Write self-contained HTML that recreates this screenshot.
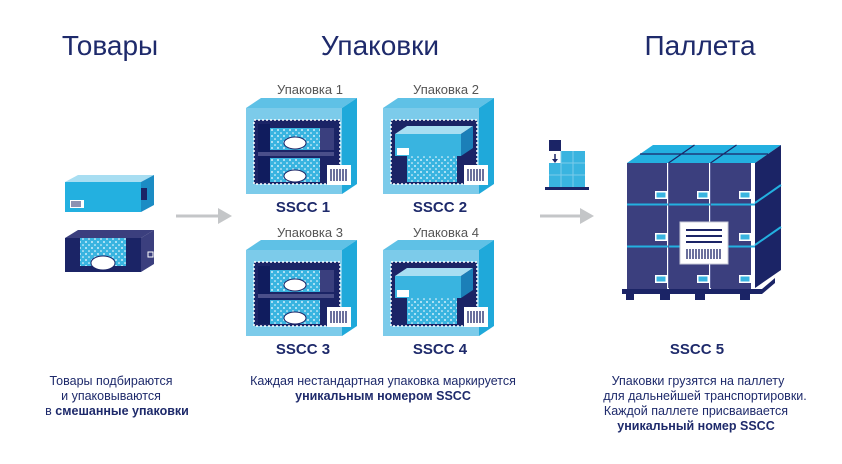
<!DOCTYPE html>
<html><head><meta charset="utf-8"><style>
html,body{margin:0;padding:0;background:#fff;}
svg{display:block;font-family:"Liberation Sans",sans-serif;}
</style></head><body>
<svg width="842" height="464" viewBox="0 0 842 464" xmlns="http://www.w3.org/2000/svg">
<defs>
<pattern id="dots" width="6" height="6" patternUnits="userSpaceOnUse">
<rect width="6" height="6" fill="#39b4e0"/><circle cx="2" cy="2" r="1" fill="#cfeefa"/><circle cx="5" cy="5" r="0.8" fill="#ffffff"/>
</pattern>
<g id="pkgbase">
<polygon points="0,10 15,0 111,0 96,10" fill="#5fc1e6"/>
<polygon points="96,10 111,0 111,86 96,96" fill="#1fa9da"/>
<rect x="0" y="10" width="96" height="86" fill="#7ccbea"/>
<rect x="8" y="22" width="86" height="64" fill="#1b2466" stroke="#fff" stroke-width="1.5" stroke-dasharray="2 2"/>
</g>
<g id="mixed">
<rect x="12" y="26" width="12" height="58" fill="#101c5e"/>
<rect x="24" y="30" width="50" height="22" fill="url(#dots)"/>
<ellipse cx="49" cy="45" rx="11" ry="6" fill="#fff" stroke="#1b2466"/>
<rect x="24" y="60" width="50" height="24" fill="url(#dots)"/>
<ellipse cx="49" cy="78" rx="11" ry="6" fill="#fff" stroke="#1b2466"/>
<rect x="74" y="30" width="14" height="22" fill="#3a3f7e"/>
<rect x="12" y="54" width="76" height="4" fill="#4a4f8a"/>
</g>
<g id="single">
<rect x="24" y="58" width="50" height="26" fill="url(#dots)"/>
<polygon points="12,36 24,28 90,28 78,36" fill="#a8def2"/>
<rect x="12" y="36" width="66" height="22" fill="#39b4e0"/>
<polygon points="78,36 90,28 90,50 78,58" fill="#1b7fb8"/>
<rect x="14" y="50" width="12" height="7" fill="#fff"/>
</g>
<g id="bar">
<rect x="0" y="0" width="24" height="20" fill="#fff"/>
<path d="M4 4v12M7 4v12M10 4v12M13 4v12M16 4v12M19 4v12" stroke="#1b2466" stroke-width="1.3"/>
</g>
<g id="pbox">
<rect width="40" height="42" fill="#3b3f7e"/>
<rect x="28" y="28" width="12" height="8" fill="#fff"/>
<rect x="29.5" y="29.5" width="9" height="5" fill="#39b4e0"/>
</g>
</defs>

<g fill="#1e2a6b" font-size="28" text-anchor="middle">
<text x="110" y="55">Товары</text>
<text x="380" y="55">Упаковки</text>
<text x="700" y="55">Паллета</text>
</g>

<polygon points="65,182 78,175 154,175 141,182" fill="#a8def2"/>
<rect x="65" y="182" width="76" height="30" fill="#23b0e0"/>
<polygon points="141,182 154,175 154,205 141,212" fill="#1b8cc4"/>
<rect x="141" y="188" width="6" height="12" fill="#1b2466"/>
<rect x="70" y="200" width="14" height="8" fill="#fff"/>
<path d="M72 201v6M74 201v6M76 201v6M78 201v6M80 201v6" stroke="#1b2466"/>
<polygon points="65,238 78,230 154,230 141,238" fill="#3b3f7e"/>
<rect x="65" y="238" width="76" height="34" fill="#1b2466"/>
<polygon points="141,238 154,230 154,264 141,272" fill="#3b3f7e"/>
<rect x="80" y="238" width="46" height="28" fill="url(#dots)"/>
<ellipse cx="103" cy="263" rx="12" ry="7" fill="#fff" stroke="#1b2466"/>
<rect x="148" y="252" width="5" height="5" fill="none" stroke="#fff"/>

<line x1="176" y1="216" x2="220" y2="216" stroke="#c4c6c8" stroke-width="3"/>
<polygon points="218,208 232,216 218,224" fill="#c4c6c8"/>
<line x1="540" y1="216" x2="582" y2="216" stroke="#c4c6c8" stroke-width="3"/>
<polygon points="580,208 594,216 580,224" fill="#c4c6c8"/>

<g fill="#555" font-size="13" text-anchor="middle">
<text x="310" y="94">Упаковка 1</text>
<text x="446" y="94">Упаковка 2</text>
<text x="310" y="237">Упаковка 3</text>
<text x="446" y="237">Упаковка 4</text>
</g>
<g transform="translate(246,98)"><use href="#pkgbase"/><use href="#mixed"/><use href="#bar" x="81" y="67"/></g>
<g transform="translate(383,98)"><use href="#pkgbase"/><use href="#single"/><use href="#bar" x="81" y="67"/></g>
<g transform="translate(246,240)"><use href="#pkgbase"/><use href="#mixed"/><use href="#bar" x="81" y="67"/></g>
<g transform="translate(383,240)"><use href="#pkgbase"/><use href="#single"/><use href="#bar" x="81" y="67"/></g>
<g fill="#1e2a6b" font-size="15" font-weight="bold" text-anchor="middle">
<text x="303" y="212">SSCC 1</text>
<text x="440" y="212">SSCC 2</text>
<text x="303" y="354">SSCC 3</text>
<text x="440" y="354">SSCC 4</text>
<text x="697" y="354">SSCC 5</text>
</g>

<rect x="549" y="140" width="12" height="11" fill="#1b2466"/>
<path d="M555 154v6" stroke="#1b2466" stroke-width="1.5"/><polygon points="552,159 558,159 555,163" fill="#1b2466"/>
<rect x="549" y="163" width="12" height="24" fill="#39b4e0"/>
<rect x="561" y="151" width="24" height="36" fill="#39b4e0"/>
<path d="M549 175h36M561 163h24M573 151v36M561 151v36" stroke="#7ccbea"/>
<rect x="545" y="187" width="44" height="3" fill="#1b2466"/>

<polygon points="627,163 653,145 781,145 755,163" fill="#23b0e0"/>
<path d="M640 154h128M668.5 163L694.5 145M710.5 163L736.5 145" stroke="#1b2466" stroke-width="1.2"/>
<polygon points="755,163 781,145 781,270 755,288" fill="#1b2466"/>
<path d="M755 203L781 185M755 245L781 227" stroke="#23b0e0" stroke-width="2"/>
<g transform="translate(627,163)">
<use href="#pbox" x="0" y="0"/><use href="#pbox" x="42" y="0"/><use href="#pbox" x="84" y="0"/>
<use href="#pbox" x="0" y="42"/><use href="#pbox" x="42" y="42"/><use href="#pbox" x="84" y="42"/>
<use href="#pbox" x="0" y="84"/><use href="#pbox" x="42" y="84"/><use href="#pbox" x="84" y="84"/>
</g>
<path d="M627 204.5h128M627 246.5h128" stroke="#23b0e0" stroke-width="2"/>
<path d="M668.5 163v125M710.5 163v125" stroke="#5a5f9a" stroke-width="1"/>
<rect x="680" y="222" width="48" height="42" fill="#fff" stroke="#c8cbd8"/>
<path d="M686 230h36M686 236h36M686 242h36" stroke="#1b2466" stroke-width="2"/>
<path d="M687 249v10M690 249v10M693 249v10M696 249v10M699 249v10M702 249v10M705 249v10M708 249v10M711 249v10M714 249v10M717 249v10M720 249v10" stroke="#1b2466" stroke-width="1.3"/>
<rect x="622" y="289" width="140" height="5" fill="#1b2466"/>
<path d="M626 294h8v6h-8zM660 294h10v6h-10zM695 294h10v6h-10zM740 294h10v6h-10z" fill="#1b2466"/>
<polygon points="762,289 775,278 775,283 762,294" fill="#1b2466"/>

<g fill="#1e2a6b" font-size="12.5" text-anchor="middle">
<text x="111" y="385">Товары подбираются</text>
<text x="111" y="400">и упаковываются</text>
<text x="117" y="415">в <tspan font-weight="bold">смешанные упаковки</tspan></text>
<text x="383" y="385">Каждая нестандартная упаковка маркируется</text>
<text x="383" y="400" font-weight="bold">уникальным номером SSCC</text>
<text x="698" y="385">Упаковки грузятся на паллету</text>
<text x="705" y="400">для дальнейшей транспортировки.</text>
<text x="696" y="415">Каждой паллете присваивается</text>
<text x="696" y="430" font-weight="bold">уникальный номер SSCC</text>
</g>
</svg>
</body></html>
